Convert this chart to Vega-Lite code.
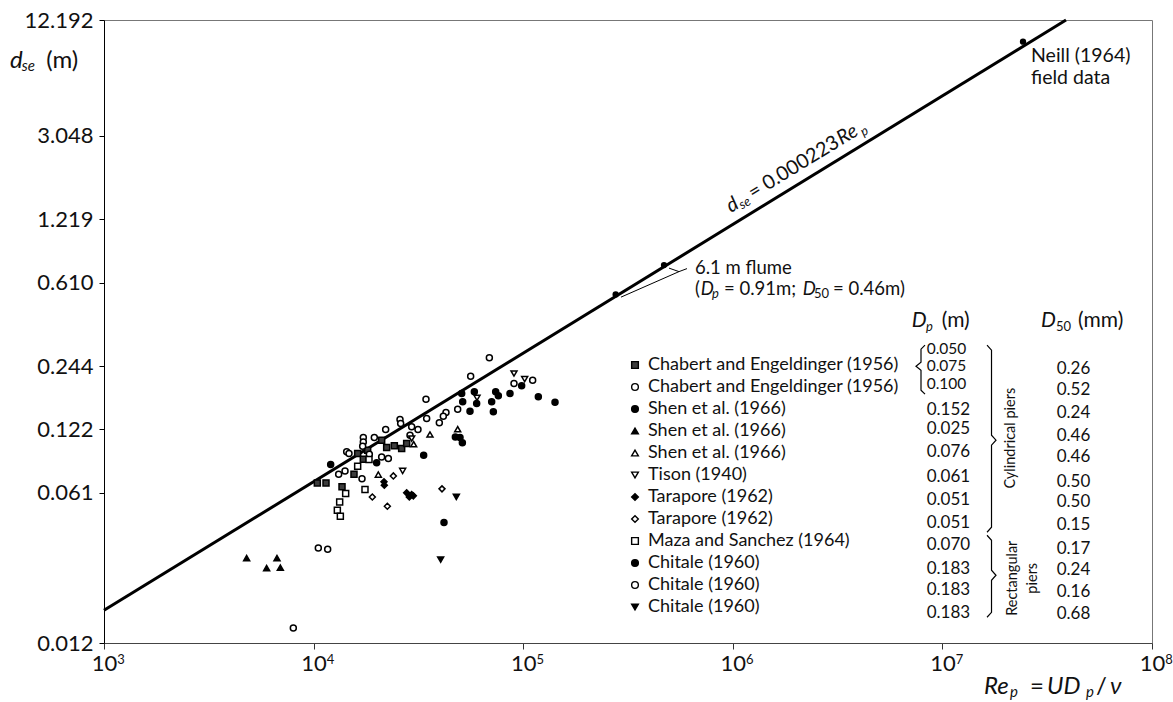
{
  "$schema": "https://vega.github.io/schema/vega-lite/v6.json",
  "width": 1048,
  "height": 623,
  "autosize": {"type": "none"},
  "padding": {"left": 104, "top": 20, "right": 21, "bottom": 59},
  "background": "white",
  "config": {
    "font": "Lato",
    "view": {"stroke": "#777", "strokeWidth": 1},
    "axis": {"grid": false, "labelFont": "Lato", "labelColor": "#111", "title": null}
  },
  "datasets": {
    "obs": [
      {"Re": 10418, "d": 0.0679, "series": "01 Chabert and Engeldinger (1956)"},
      {"Re": 11459, "d": 0.0679, "series": "01 Chabert and Engeldinger (1956)"},
      {"Re": 15585, "d": 0.0747, "series": "01 Chabert and Engeldinger (1956)"},
      {"Re": 13664, "d": 0.065, "series": "01 Chabert and Engeldinger (1956)"},
      {"Re": 16226, "d": 0.0937, "series": "01 Chabert and Engeldinger (1956)"},
      {"Re": 17266, "d": 0.0881, "series": "01 Chabert and Engeldinger (1956)"},
      {"Re": 22317, "d": 0.1, "series": "01 Chabert and Engeldinger (1956)"},
      {"Re": 24275, "d": 0.1019, "series": "01 Chabert and Engeldinger (1956)"},
      {"Re": 26310, "d": 0.0989, "series": "01 Chabert and Engeldinger (1956)"},
      {"Re": 27797, "d": 0.1045, "series": "01 Chabert and Engeldinger (1956)"},
      {"Re": 21120, "d": 0.1084, "series": "01 Chabert and Engeldinger (1956)"},
      {"Re": 18109, "d": 0.0971, "series": "01 Chabert and Engeldinger (1956)"},
      {"Re": 56148, "d": 0.2187, "series": "02 Chabert and Engeldinger (1956)"},
      {"Re": 34370, "d": 0.17, "series": "02 Chabert and Engeldinger (1956)"},
      {"Re": 48690, "d": 0.1523, "series": "02 Chabert and Engeldinger (1956)"},
      {"Re": 42814, "d": 0.1468, "series": "02 Chabert and Engeldinger (1956)"},
      {"Re": 41580, "d": 0.1411, "series": "02 Chabert and Engeldinger (1956)"},
      {"Re": 39792, "d": 0.1311, "series": "02 Chabert and Engeldinger (1956)"},
      {"Re": 34625, "d": 0.1375, "series": "02 Chabert and Engeldinger (1956)"},
      {"Re": 25835, "d": 0.136, "series": "02 Chabert and Engeldinger (1956)"},
      {"Re": 26026, "d": 0.1301, "series": "02 Chabert and Engeldinger (1956)"},
      {"Re": 22071, "d": 0.1219, "series": "02 Chabert and Engeldinger (1956)"},
      {"Re": 19484, "d": 0.1116, "series": "02 Chabert and Engeldinger (1956)"},
      {"Re": 17266, "d": 0.1116, "series": "02 Chabert and Engeldinger (1956)"},
      {"Re": 17266, "d": 0.1064, "series": "02 Chabert and Engeldinger (1956)"},
      {"Re": 17143, "d": 0.1015, "series": "02 Chabert and Engeldinger (1956)"},
      {"Re": 14382, "d": 0.0954, "series": "02 Chabert and Engeldinger (1956)"},
      {"Re": 14754, "d": 0.0937, "series": "02 Chabert and Engeldinger (1956)"},
      {"Re": 18446, "d": 0.093, "series": "02 Chabert and Engeldinger (1956)"},
      {"Re": 22728, "d": 0.0887, "series": "02 Chabert and Engeldinger (1956)"},
      {"Re": 21120, "d": 0.0903, "series": "02 Chabert and Engeldinger (1956)"},
      {"Re": 14122, "d": 0.0774, "series": "02 Chabert and Engeldinger (1956)"},
      {"Re": 13170, "d": 0.0747, "series": "02 Chabert and Engeldinger (1956)"},
      {"Re": 31477, "d": 0.1219, "series": "02 Chabert and Engeldinger (1956)"},
      {"Re": 29364, "d": 0.1255, "series": "02 Chabert and Engeldinger (1956)"},
      {"Re": 28834, "d": 0.1145, "series": "02 Chabert and Engeldinger (1956)"},
      {"Re": 90386, "d": 0.2018, "series": "02 Chabert and Engeldinger (1956)"},
      {"Re": 50876, "d": 0.1809, "series": "03 Shen et al. (1966)"},
      {"Re": 58462, "d": 0.1842, "series": "03 Shen et al. (1966)"},
      {"Re": 73908, "d": 0.1842, "series": "03 Shen et al. (1966)"},
      {"Re": 76105, "d": 0.1763, "series": "03 Shen et al. (1966)"},
      {"Re": 86497, "d": 0.1809, "series": "03 Shen et al. (1966)"},
      {"Re": 118090, "d": 0.1743, "series": "03 Shen et al. (1966)"},
      {"Re": 141820, "d": 0.1644, "series": "03 Shen et al. (1966)"},
      {"Re": 72042, "d": 0.1479, "series": "03 Shen et al. (1966)"},
      {"Re": 70727, "d": 0.1651, "series": "03 Shen et al. (1966)"},
      {"Re": 55736, "d": 0.149, "series": "03 Shen et al. (1966)"},
      {"Re": 59975, "d": 0.1621, "series": "03 Shen et al. (1966)"},
      {"Re": 51441, "d": 0.1651, "series": "03 Shen et al. (1966)"},
      {"Re": 98311, "d": 0.1967, "series": "03 Shen et al. (1966)"},
      {"Re": 4793, "d": 0.0298, "series": "04 Shen et al. (1966)"},
      {"Re": 5970, "d": 0.0267, "series": "04 Shen et al. (1966)"},
      {"Re": 6689, "d": 0.0298, "series": "04 Shen et al. (1966)"},
      {"Re": 6938, "d": 0.0268, "series": "04 Shen et al. (1966)"},
      {"Re": 35914, "d": 0.1154, "series": "05 Shen et al. (1966)"},
      {"Re": 48690, "d": 0.1223, "series": "05 Shen et al. (1966)"},
      {"Re": 30020, "d": 0.1038, "series": "05 Shen et al. (1966)"},
      {"Re": 20361, "d": 0.0744, "series": "05 Shen et al. (1966)"},
      {"Re": 90386, "d": 0.2252, "series": "06 Tison (1940)"},
      {"Re": 101620, "d": 0.2117, "series": "06 Tison (1940)"},
      {"Re": 26602, "d": 0.0774, "series": "06 Tison (1940)"},
      {"Re": 60196, "d": 0.1724, "series": "06 Tison (1940)"},
      {"Re": 29364, "d": 0.1104, "series": "06 Tison (1940)"},
      {"Re": 21667, "d": 0.0687, "series": "07 Tarapore (1962)"},
      {"Re": 21747, "d": 0.0662, "series": "07 Tarapore (1962)"},
      {"Re": 27797, "d": 0.0609, "series": "07 Tarapore (1962)"},
      {"Re": 29364, "d": 0.0598, "series": "07 Tarapore (1962)"},
      {"Re": 28622, "d": 0.0582, "series": "07 Tarapore (1962)"},
      {"Re": 29910, "d": 0.0589, "series": "07 Tarapore (1962)"},
      {"Re": 24014, "d": 0.0733, "series": "08 Tarapore (1962)"},
      {"Re": 19063, "d": 0.0582, "series": "08 Tarapore (1962)"},
      {"Re": 22482, "d": 0.0526, "series": "08 Tarapore (1962)"},
      {"Re": 40980, "d": 0.0636, "series": "08 Tarapore (1962)"},
      {"Re": 16226, "d": 0.0815, "series": "09 Maza and Sanchez (1964)"},
      {"Re": 17587, "d": 0.0631, "series": "09 Maza and Sanchez (1964)"},
      {"Re": 14223, "d": 0.0604, "series": "09 Maza and Sanchez (1964)"},
      {"Re": 13316, "d": 0.0551, "series": "09 Maza and Sanchez (1964)"},
      {"Re": 12980, "d": 0.0503, "series": "09 Maza and Sanchez (1964)"},
      {"Re": 13415, "d": 0.0471, "series": "09 Maza and Sanchez (1964)"},
      {"Re": 18378, "d": 0.0877, "series": "09 Maza and Sanchez (1964)"},
      {"Re": 47461, "d": 0.1124, "series": "10 Chitale (1960)"},
      {"Re": 51253, "d": 0.1053, "series": "10 Chitale (1960)"},
      {"Re": 49948, "d": 0.1116, "series": "10 Chitale (1960)"},
      {"Re": 33504, "d": 0.092, "series": "10 Chitale (1960)"},
      {"Re": 12063, "d": 0.083, "series": "10 Chitale (1960)"},
      {"Re": 19989, "d": 0.0846, "series": "10 Chitale (1960)"},
      {"Re": 41890, "d": 0.044, "series": "10 Chitale (1960)"},
      {"Re": 8002, "d": 0.01385, "series": "11 Chitale (1960)"},
      {"Re": 10531, "d": 0.0333, "series": "11 Chitale (1960)"},
      {"Re": 11672, "d": 0.0328, "series": "11 Chitale (1960)"},
      {"Re": 17018, "d": 0.071, "series": "11 Chitale (1960)"},
      {"Re": 68945, "d": 0.2675, "series": "11 Chitale (1960)"},
      {"Re": 110940, "d": 0.2093, "series": "11 Chitale (1960)"},
      {"Re": 47978, "d": 0.0582, "series": "12 Chitale (1960)"},
      {"Re": 40380, "d": 0.0293, "series": "12 Chitale (1960)"}
    ],
    "special": [
      {"Re": 24240000, "d": 8.546, "source": "Neill (1964) field data"},
      {"Re": 276200, "d": 0.5357, "source": "6.1 m flume"},
      {"Re": 469700, "d": 0.7385, "source": "6.1 m flume"}
    ],
    "fit": [
      {"Re": 1000, "d": 0.0168},
      {"Re": 38890000, "d": 10.84}
    ],
    "callout": [
      {"Re": 496200, "d": 0.7147, "grp": "a", "ord": 1},
      {"Re": 553800, "d": 0.6878, "grp": "a", "ord": 2},
      {"Re": 604600, "d": 0.7108, "grp": "a", "ord": 3},
      {"Re": 292800, "d": 0.52, "grp": "b", "ord": 1},
      {"Re": 553800, "d": 0.6878, "grp": "b", "ord": 2}
    ],
    "brackets": [
      {"Re": 8260000, "d": 0.3072, "grp": "dp", "ord": 1},
      {"Re": 7905000, "d": 0.294, "grp": "dp", "ord": 2},
      {"Re": 7905000, "d": 0.255, "grp": "dp", "ord": 3},
      {"Re": 7482000, "d": 0.244, "grp": "dp", "ord": 4},
      {"Re": 7905000, "d": 0.2335, "grp": "dp", "ord": 5},
      {"Re": 7905000, "d": 0.1876, "grp": "dp", "ord": 6},
      {"Re": 8260000, "d": 0.1795, "grp": "dp", "ord": 7},
      {"Re": 16325000, "d": 0.3072, "grp": "cyl", "ord": 1},
      {"Re": 17152000, "d": 0.2908, "grp": "cyl", "ord": 2},
      {"Re": 17152000, "d": 0.1145, "grp": "cyl", "ord": 3},
      {"Re": 18017000, "d": 0.1084, "grp": "cyl", "ord": 4},
      {"Re": 17152000, "d": 0.1026, "grp": "cyl", "ord": 5},
      {"Re": 17152000, "d": 0.04176, "grp": "cyl", "ord": 6},
      {"Re": 16325000, "d": 0.03954, "grp": "cyl", "ord": 7},
      {"Re": 16325000, "d": 0.03826, "grp": "rect", "ord": 1},
      {"Re": 17152000, "d": 0.03622, "grp": "rect", "ord": 2},
      {"Re": 17152000, "d": 0.02606, "grp": "rect", "ord": 3},
      {"Re": 18017000, "d": 0.02467, "grp": "rect", "ord": 4},
      {"Re": 17152000, "d": 0.02335, "grp": "rect", "ord": 5},
      {"Re": 17152000, "d": 0.01644, "grp": "rect", "ord": 6},
      {"Re": 16325000, "d": 0.01557, "grp": "rect", "ord": 7}
    ],
    "exps": [
      {"Re": 1000, "e": "3"},
      {"Re": 10000, "e": "4"},
      {"Re": 100000, "e": "5"},
      {"Re": 1000000, "e": "6"},
      {"Re": 10000000, "e": "7"},
      {"Re": 100000000, "e": "8"}
    ],
    "tableTight": [
      {"Re": 8415000, "d": 0.294, "txt": "0.050"},
      {"Re": 8415000, "d": 0.244, "txt": "0.075"},
      {"Re": 8415000, "d": 0.2003, "txt": "0.100"}
    ],
    "table": [
      {"Re": 8415000, "d": 0.1506, "txt": "0.152"},
      {"Re": 8415000, "d": 0.1223, "txt": "0.025"},
      {"Re": 8415000, "d": 0.09504, "txt": "0.076"},
      {"Re": 8415000, "d": 0.0725, "txt": "0.061"},
      {"Re": 8415000, "d": 0.05614, "txt": "0.051"},
      {"Re": 8415000, "d": 0.04378, "txt": "0.051"},
      {"Re": 8415000, "d": 0.03454, "txt": "0.070"},
      {"Re": 8415000, "d": 0.02655, "txt": "0.183"},
      {"Re": 8415000, "d": 0.02093, "txt": "0.183"},
      {"Re": 8415000, "d": 0.01632, "txt": "0.183"},
      {"Re": 35110000, "d": 0.2353, "txt": "0.26"},
      {"Re": 35110000, "d": 0.1876, "txt": "0.52"},
      {"Re": 35110000, "d": 0.1453, "txt": "0.24"},
      {"Re": 35110000, "d": 0.1132, "txt": "0.46"},
      {"Re": 35110000, "d": 0.09027, "txt": "0.46"},
      {"Re": 35110000, "d": 0.06862, "txt": "0.50"},
      {"Re": 35110000, "d": 0.0551, "txt": "0.50"},
      {"Re": 35110000, "d": 0.04302, "txt": "0.15"},
      {"Re": 35110000, "d": 0.03306, "txt": "0.17"},
      {"Re": 35110000, "d": 0.02606, "txt": "0.24"},
      {"Re": 35110000, "d": 0.02055, "txt": "0.16"},
      {"Re": 35110000, "d": 0.01621, "txt": "0.68"}
    ]
  },
  "layer": [
    {
      "data": {"name": "fit"},
      "mark": {"type": "line", "color": "black", "strokeWidth": 3},
      "encoding": {
        "x": {"field": "Re", "type": "quantitative", "scale": {"type": "log", "domain": [1000, 100000000], "nice": false, "zero": false},
          "axis": {"values": [1000, 10000, 100000, 1000000, 10000000, 100000000], "labelExpr": "'10'", "labelFontSize": 22, "tickSize": 6, "tickColor": "#333", "domainColor": "#444", "labelPadding": 4, "labelFlush": false, "labelOverlap": false, "labelDx": 1}},
        "y": {"field": "d", "type": "quantitative", "scale": {"type": "log", "domain": [0.011744, 10.84], "nice": false, "zero": false},
          "axis": {"values": [0.011744, 0.061, 0.122, 0.244, 0.61, 1.219, 3.048, 10.84], "labelExpr": "datum.value > 10 ? '12.192' : datum.value < 0.0118 ? '0.012' : format(datum.value, '.3f')", "labelFontSize": 22, "tickSize": 5, "tickColor": "black", "domainColor": "black", "labelPadding": 6, "labelOverlap": false, "labelFlush": false}}
      }
    },
    {
      "data": {"name": "callout"},
      "mark": {"type": "line", "color": "black", "strokeWidth": 1},
      "encoding": {
        "x": {"field": "Re", "type": "quantitative"},
        "y": {"field": "d", "type": "quantitative"},
        "detail": {"field": "grp"},
        "order": {"field": "ord", "type": "quantitative"}
      }
    },
    {
      "data": {"name": "brackets"},
      "mark": {"type": "line", "color": "black", "strokeWidth": 1.2},
      "encoding": {
        "x": {"field": "Re", "type": "quantitative"},
        "y": {"field": "d", "type": "quantitative"},
        "detail": {"field": "grp"},
        "order": {"field": "ord", "type": "quantitative"}
      }
    },
    {
      "data": {"name": "obs"},
      "mark": {"type": "point", "size": 36, "strokeWidth": 1.5, "opacity": 1},
      "encoding": {
        "x": {"field": "Re", "type": "quantitative"},
        "y": {"field": "d", "type": "quantitative"},
        "shape": {"field": "series", "type": "nominal",
          "scale": {"domain": ["01 Chabert and Engeldinger (1956)", "02 Chabert and Engeldinger (1956)", "03 Shen et al. (1966)", "04 Shen et al. (1966)", "05 Shen et al. (1966)", "06 Tison (1940)", "07 Tarapore (1962)", "08 Tarapore (1962)", "09 Maza and Sanchez (1964)", "10 Chitale (1960)", "11 Chitale (1960)", "12 Chitale (1960)"],
            "range": ["square", "circle", "circle", "triangle-up", "triangle-up", "triangle-down", "diamond", "diamond", "square", "circle", "circle", "triangle-down"]},
          "legend": {"orient": "none", "legendX": 522, "legendY": 336, "title": null, "labelExpr": "substring(datum.label, 3)", "labelFont": "Lato", "labelFontSize": 18, "labelColor": "#111", "symbolSize": 45, "symbolStrokeWidth": 1.4, "rowPadding": 4, "labelOffset": 4, "padding": 0, "labelLimit": 400, "symbolLimit": 0}},
        "fill": {"field": "series", "type": "nominal",
          "scale": {"domain": ["01 Chabert and Engeldinger (1956)", "02 Chabert and Engeldinger (1956)", "03 Shen et al. (1966)", "04 Shen et al. (1966)", "05 Shen et al. (1966)", "06 Tison (1940)", "07 Tarapore (1962)", "08 Tarapore (1962)", "09 Maza and Sanchez (1964)", "10 Chitale (1960)", "11 Chitale (1960)", "12 Chitale (1960)"],
            "range": ["#3c3c3c", "white", "black", "black", "white", "white", "black", "white", "white", "black", "white", "black"]},
          "legend": {"orient": "none", "legendX": 522, "legendY": 336, "title": null, "labelExpr": "substring(datum.label, 3)", "labelFont": "Lato", "labelFontSize": 18, "labelColor": "#111", "symbolSize": 45, "symbolStrokeWidth": 1.4, "rowPadding": 4, "labelOffset": 4, "padding": 0, "labelLimit": 400, "symbolLimit": 0}},
        "stroke": {"field": "series", "type": "nominal",
          "scale": {"domain": ["01 Chabert and Engeldinger (1956)", "02 Chabert and Engeldinger (1956)", "03 Shen et al. (1966)", "04 Shen et al. (1966)", "05 Shen et al. (1966)", "06 Tison (1940)", "07 Tarapore (1962)", "08 Tarapore (1962)", "09 Maza and Sanchez (1964)", "10 Chitale (1960)", "11 Chitale (1960)", "12 Chitale (1960)"],
            "range": ["black", "black", "black", "black", "black", "black", "black", "black", "black", "black", "black", "black"]},
          "legend": {"orient": "none", "legendX": 522, "legendY": 336, "title": null, "labelExpr": "substring(datum.label, 3)", "labelFont": "Lato", "labelFontSize": 18, "labelColor": "#111", "symbolSize": 45, "symbolStrokeWidth": 1.4, "rowPadding": 4, "labelOffset": 4, "padding": 0, "labelLimit": 400, "symbolLimit": 0}}
      }
    },
    {
      "data": {"name": "special"},
      "mark": {"type": "point", "filled": true, "size": 40, "color": "black", "opacity": 1},
      "encoding": {
        "x": {"field": "Re", "type": "quantitative"},
        "y": {"field": "d", "type": "quantitative"}
      }
    },
    {
      "data": {"name": "exps"},
      "mark": {"type": "text", "fontSize": 13, "dx": 17, "dy": 17, "align": "center", "baseline": "middle", "color": "#111"},
      "encoding": {
        "x": {"field": "Re", "type": "quantitative"},
        "y": {"datum": 0.011744, "type": "quantitative"},
        "text": {"field": "e"}
      }
    },
    {
      "data": {"name": "tableTight"},
      "mark": {"type": "text", "fontSize": 15.5, "align": "left", "baseline": "middle", "color": "#111"},
      "encoding": {
        "x": {"field": "Re", "type": "quantitative"},
        "y": {"field": "d", "type": "quantitative"},
        "text": {"field": "txt"}
      }
    },
    {
      "data": {"name": "table"},
      "mark": {"type": "text", "fontSize": 17, "align": "left", "baseline": "middle", "color": "#111"},
      "encoding": {
        "x": {"field": "Re", "type": "quantitative"},
        "y": {"field": "d", "type": "quantitative"},
        "text": {"field": "txt"}
      }
    },
    {
      "data": {"values": [
        {"Re": 660100, "d": 0.6691, "txt": "6.1 m flume"},
        {"Re": 660100, "d": 0.5314, "txt": "("},
        {"Re": 907800, "d": 0.5314, "txt": "= 0.91m;"},
        {"Re": 3007000, "d": 0.5314, "txt": "= 0.46m)"}
      ]},
      "mark": {"type": "text", "fontSize": 18.5, "align": "left", "baseline": "alphabetic", "color": "#111"},
      "encoding": {"x": {"field": "Re", "type": "quantitative"}, "y": {"field": "d", "type": "quantitative"}, "text": {"field": "txt"}}
    },
    {
      "data": {"values": [
        {"Re": 26470000, "d": 6.839, "txt": "Neill (1964)"},
        {"Re": 26470000, "d": 5.373, "txt": "field data"}
      ]},
      "mark": {"type": "text", "fontSize": 19.5, "align": "left", "baseline": "alphabetic", "color": "#111"},
      "encoding": {"x": {"field": "Re", "type": "quantitative"}, "y": {"field": "d", "type": "quantitative"}, "text": {"field": "txt"}}
    },
    {
      "data": {"values": [
        {"Re": 702700, "d": 0.5314, "txt": "D"},
        {"Re": 2156000, "d": 0.5314, "txt": "D"}
      ]},
      "mark": {"type": "text", "fontSize": 18.5, "fontStyle": "italic", "align": "left", "baseline": "alphabetic", "color": "#111"},
      "encoding": {"x": {"field": "Re", "type": "quantitative"}, "y": {"field": "d", "type": "quantitative"}, "text": {"field": "txt"}}
    },
    {
      "data": {"values": [
        {"Re": 795900, "d": 0.5142, "txt": "p"},
        {"Re": 8352000, "d": 0.3581, "txt": "p"}
      ]},
      "mark": {"type": "text", "fontSize": 13, "fontStyle": "italic", "align": "left", "baseline": "alphabetic", "color": "#111"},
      "encoding": {"x": {"field": "Re", "type": "quantitative"}, "y": {"field": "d", "type": "quantitative"}, "text": {"field": "txt"}}
    },
    {
      "data": {"values": [
        {"Re": 2440000, "d": 0.5142, "txt": "50"},
        {"Re": 34830000, "d": 0.3581, "txt": "50"}
      ]},
      "mark": {"type": "text", "fontSize": 13, "align": "left", "baseline": "alphabetic", "color": "#111"},
      "encoding": {"x": {"field": "Re", "type": "quantitative"}, "y": {"field": "d", "type": "quantitative"}, "text": {"field": "txt"}}
    },
    {
      "data": {"values": [
        {"Re": 7138000, "d": 0.3742, "txt": "D"},
        {"Re": 29530000, "d": 0.3742, "txt": "D"}
      ]},
      "mark": {"type": "text", "fontSize": 21, "fontStyle": "italic", "align": "left", "baseline": "alphabetic", "color": "#111"},
      "encoding": {"x": {"field": "Re", "type": "quantitative"}, "y": {"field": "d", "type": "quantitative"}, "text": {"field": "txt"}}
    },
    {
      "data": {"values": [
        {"Re": 9924000, "d": 0.3742, "txt": "(m)"},
        {"Re": 44360000, "d": 0.3742, "txt": "(mm)"}
      ]},
      "mark": {"type": "text", "fontSize": 21, "align": "left", "baseline": "alphabetic", "color": "#111"},
      "encoding": {"x": {"field": "Re", "type": "quantitative"}, "y": {"field": "d", "type": "quantitative"}, "text": {"field": "txt"}}
    },
    {
      "data": {"values": [
        {"Re": 356, "d": 6.405, "txt": "d"},
        {"Re": 15800000, "d": 0.00669, "txt": "Re"},
        {"Re": 31550000, "d": 0.00669, "txt": "UD"},
        {"Re": 63060000, "d": 0.00669, "txt": "ν"}
      ]},
      "mark": {"type": "text", "fontSize": 24, "fontStyle": "italic", "align": "left", "baseline": "alphabetic", "color": "#111"},
      "encoding": {"x": {"field": "Re", "type": "quantitative"}, "y": {"field": "d", "type": "quantitative"}, "text": {"field": "txt"}}
    },
    {
      "data": {"values": [
        {"Re": 530, "d": 6.405, "txt": "(m)"},
        {"Re": 26170000, "d": 0.00669, "txt": "="},
        {"Re": 54050000, "d": 0.00669, "txt": "/"}
      ]},
      "mark": {"type": "text", "fontSize": 24, "align": "left", "baseline": "alphabetic", "color": "#111"},
      "encoding": {"x": {"field": "Re", "type": "quantitative"}, "y": {"field": "d", "type": "quantitative"}, "text": {"field": "txt"}}
    },
    {
      "data": {"values": [
        {"Re": 404.8, "d": 6.197, "txt": "se"},
        {"Re": 21000000, "d": 0.006473, "txt": "p"},
        {"Re": 48430000, "d": 0.006473, "txt": "p"}
      ]},
      "mark": {"type": "text", "fontSize": 15, "fontStyle": "italic", "align": "left", "baseline": "alphabetic", "color": "#111"},
      "encoding": {"x": {"field": "Re", "type": "quantitative"}, "y": {"field": "d", "type": "quantitative"}, "text": {"field": "txt"}}
    },
    {
      "data": {"values": [
        {"Re": 980400, "d": 1.3062, "txt": "d"},
        {"Re": 3311000, "d": 2.75, "txt": "Re"}
      ]},
      "mark": {"type": "text", "fontSize": 20, "fontStyle": "italic", "angle": 328.5, "align": "left", "baseline": "alphabetic", "color": "#111"},
      "encoding": {"x": {"field": "Re", "type": "quantitative"}, "y": {"field": "d", "type": "quantitative"}, "text": {"field": "txt"}}
    },
    {
      "data": {"values": [
        {"Re": 1251200, "d": 1.5164, "txt": "= 0.000223"}
      ]},
      "mark": {"type": "text", "fontSize": 20, "angle": 328.5, "align": "left", "baseline": "alphabetic", "color": "#111"},
      "encoding": {"x": {"field": "Re", "type": "quantitative"}, "y": {"field": "d", "type": "quantitative"}, "text": {"field": "txt"}}
    },
    {
      "data": {"values": [
        {"Re": 1106000, "d": 1.357, "txt": "se"},
        {"Re": 4204000, "d": 3.022, "txt": "p"}
      ]},
      "mark": {"type": "text", "fontSize": 13, "fontStyle": "italic", "angle": 328.5, "align": "left", "baseline": "alphabetic", "color": "#111"},
      "encoding": {"x": {"field": "Re", "type": "quantitative"}, "y": {"field": "d", "type": "quantitative"}, "text": {"field": "txt"}}
    },
    {
      "data": {"values": [
        {"Re": 21250000, "d": 0.1108, "txt": "Cylindrical piers"},
        {"Re": 21720000, "d": 0.02388, "txt": "Rectangular"},
        {"Re": 27060000, "d": 0.02388, "txt": "piers"}
      ]},
      "mark": {"type": "text", "fontSize": 14.5, "angle": 270, "align": "center", "baseline": "middle", "color": "#111"},
      "encoding": {"x": {"field": "Re", "type": "quantitative"}, "y": {"field": "d", "type": "quantitative"}, "text": {"field": "txt"}}
    }
  ]
}
